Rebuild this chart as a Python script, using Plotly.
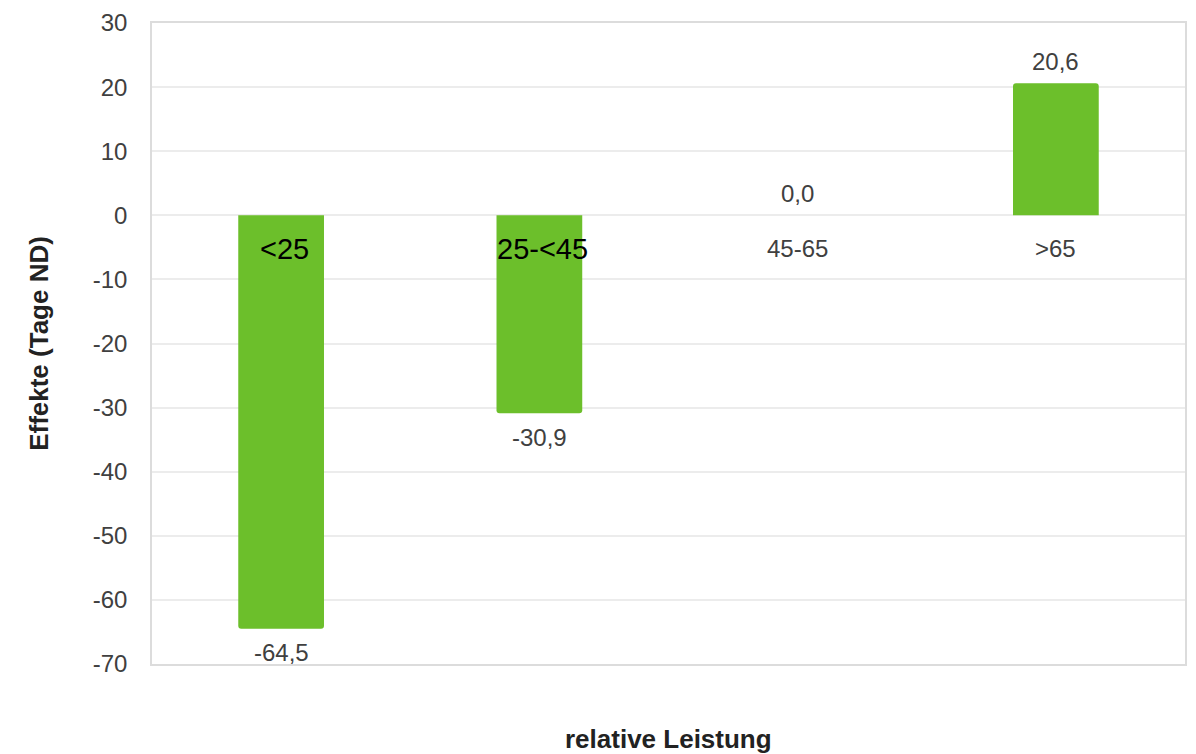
import plotly.graph_objects as go

categories = ["<25", "25-<45", "45-65", ">65"]
values = [-64.5, -30.9, 0.0, 20.6]
value_labels = ["-64,5", "-30,9", "0,0", "20,6"]
cat_label_y = -5.2
cat_label_highlight = [True, True, False, False]
y_ticks = [-70, -60, -50, -40, -30, -20, -10, 0, 10, 20, 30]

BAR = "#6cbf2b"
GRAY = "#404040"
FONT = "Liberation Sans, Arial, sans-serif"

fig = go.Figure()
fig.add_trace(go.Bar(x=categories, y=values, marker=dict(color=BAR, line=dict(width=0), cornerradius=3),
                     hoverinfo="skip"))

annotations = []
for c, v, t in zip(categories, values, value_labels):
    annotations.append(dict(x=c, y=v, xref="x", yref="y", text=t, showarrow=False,
                            yanchor="middle", yshift=(-24 if v < 0 else 22),
                            font=dict(family=FONT, size=24, color=GRAY)))
for c, hl in zip(categories, cat_label_highlight):
    annotations.append(dict(x=c, y=cat_label_y, xref="x", yref="y", text=c, showarrow=False,
                            yanchor="middle", xshift=(3 if hl else 0),
                            font=dict(family=FONT, size=(29 if hl else 24), color=("#000000" if hl else GRAY))))
annotations.append(dict(x=-0.110, y=0.5, xref="paper", yref="paper", text="<b>Effekte (Tage ND)</b>",
                        textangle=-90, showarrow=False, xanchor="center", yanchor="middle",
                        font=dict(family=FONT, size=26, color="#222222")))
annotations.append(dict(x=0.5, y=-0.117, xref="paper", yref="paper", text="<b>relative Leistung</b>",
                        showarrow=False, xanchor="center", yanchor="middle",
                        font=dict(family=FONT, size=26, color="#222222")))

fig.update_layout(
    width=1196, height=754,
    margin=dict(l=152, r=9, t=20, b=90),
    paper_bgcolor="white", plot_bgcolor="white",
    bargap=0.668, showlegend=False,
    annotations=annotations,
    xaxis=dict(showticklabels=False, showgrid=False, zeroline=False,
               showline=True, mirror=True, linecolor="#dcdcdc", linewidth=1.5, ticks=""),
    yaxis=dict(range=[-70, 30], tickvals=y_ticks, ticktext=[str(t) for t in y_ticks],
               showgrid=True, gridcolor="#ececec", gridwidth=1.5,
               zeroline=True, zerolinecolor="#ececec", zerolinewidth=1.5,
               showline=True, mirror=True, linecolor="#dcdcdc", linewidth=1.5,
               ticks="", ticklabelstandoff=18,
               tickfont=dict(family=FONT, size=24, color=GRAY)),
)

fig.write_html("out.html")
